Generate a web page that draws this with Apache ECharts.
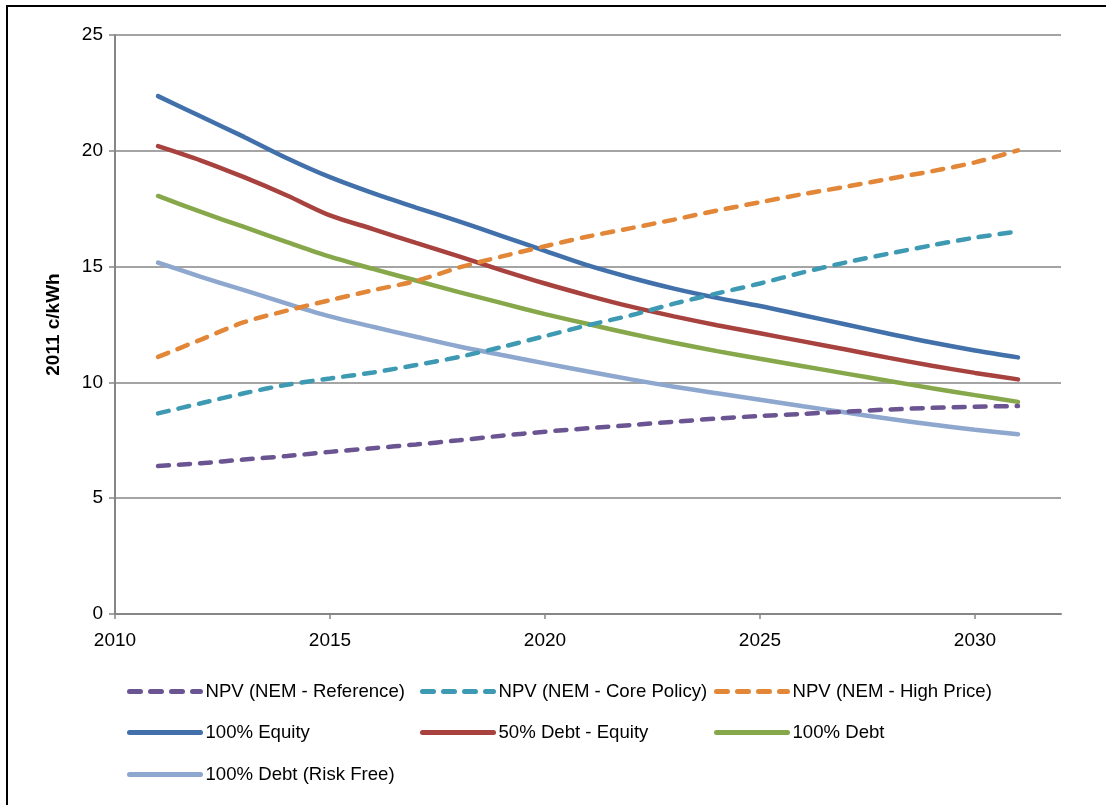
<!DOCTYPE html>
<html>
<head>
<meta charset="utf-8">
<script src="https://cdn.jsdelivr.net/npm/echarts@6/dist/echarts.min.js"></script>
<style>
  html, body { margin: 0; padding: 0; background: #fff; }
  #dom { width: 1106px; height: 805px; }
</style>
</head>
<body>
<div id="dom"></div>
<script>
// years 2011..2031
const years = [2011, 2012, 2013, 2014, 2015, 2016, 2017, 2018, 2019, 2020, 2021,
    2022, 2023, 2024, 2025, 2026, 2027, 2028, 2029, 2030, 2031]

// dashed NPV series (2011 c/kWh)
const npvReference = [6.39, 6.51, 6.67, 6.82, 7.0, 7.16, 7.32, 7.5, 7.7, 7.87, 8.02,
    8.16, 8.3, 8.44, 8.55, 8.64, 8.74, 8.83, 8.9, 8.95, 8.98]
const npvCorePolicy = [8.66, 9.1, 9.53, 9.9, 10.17, 10.43, 10.75, 11.1, 11.53, 12.0, 12.47,
    12.9, 13.4, 13.84, 14.27, 14.75, 15.18, 15.56, 15.92, 16.25, 16.52]
const npvHighPrice = [11.1, 11.85, 12.6, 13.1, 13.55, 13.98, 14.38, 14.96, 15.44, 15.88, 16.3,
    16.66, 17.03, 17.42, 17.78, 18.13, 18.45, 18.79, 19.12, 19.5, 20.02]

// solid cost series
const equity100 = [22.36, 21.48, 20.6, 19.68, 18.86, 18.17, 17.55, 16.95, 16.32, 15.68, 15.05,
    14.52, 14.05, 13.65, 13.3, 12.9, 12.5, 12.1, 11.72, 11.38, 11.08]
const debtEquity50 = [20.2, 19.58, 18.86, 18.07, 17.21, 16.62, 16.02, 15.44, 14.84, 14.27, 13.75,
    13.27, 12.85, 12.47, 12.12, 11.77, 11.42, 11.06, 10.72, 10.41, 10.13]
const debt100 = [18.05, 17.36, 16.71, 16.06, 15.43, 14.9, 14.4, 13.9, 13.42, 12.95, 12.52,
    12.1, 11.71, 11.35, 11.02, 10.7, 10.38, 10.06, 9.75, 9.45, 9.16]
const debtRiskFree = [15.17, 14.56, 13.98, 13.4, 12.85, 12.4, 11.97, 11.55, 11.18, 10.82, 10.47,
    10.13, 9.81, 9.53, 9.25, 8.97, 8.7, 8.43, 8.18, 7.96, 7.76]

const xTicks = [2010, 2015, 2020, 2025, 2030]

const pair = arr => arr.map((v, i) => [years[i], v])

const baseFont = 'Liberation Sans, Arial, sans-serif'

function lineSeries (name, data, color, dashed) {
    return {
        name: name,
        type: 'line',
        smooth: 0.3,
        symbol: 'none',
        showSymbol: false,
        data: pair(data),
        itemStyle: { color: color },
        lineStyle: {
            color: color,
            width: 4.5,
            type: dashed ? [11, 10] : 'solid',
            cap: 'round'
        },
        z: dashed ? 3 : 2
    }
}

// one legend block for every item, laid out like the original 3 columns
const legendSlots = [
    ['NPV (NEM - Reference)', 127, 692],
    ['NPV (NEM - Core Policy)', 420, 692],
    ['NPV (NEM - High Price)', 714, 692],
    ['100% Equity', 127, 733],
    ['50% Debt - Equity', 420, 733],
    ['100% Debt', 714, 733],
    ['100% Debt (Risk Free)', 127, 775]
]

const option = {
    animation: false,
    backgroundColor: '#fff',
    textStyle: { fontFamily: baseFont },
    graphic: [{
        type: 'rect',
        shape: { x: 7, y: 6, width: 1200, height: 1000 },
        style: { fill: 'none', stroke: '#000', lineWidth: 2 },
        silent: true
    }],
    legend: legendSlots.map(s => ({
        data: [s[0]],
        left: s[1],
        top: s[2] - 10,
        itemWidth: 71,
        itemHeight: 14,
        itemGap: 0,
        padding: 0,
        itemStyle: { opacity: 0 },
        lineStyle: { width: 5, cap: 'round' },
        textStyle: { fontSize: 18.6, color: '#000', fontFamily: baseFont }
    })),
    grid: {
        left: 115,
        right: 45,
        top: 35,
        bottom: 191
    },
    xAxis: {
        type: 'value',
        min: 2010,
        max: 2032,
        interval: 5,
        axisLine: { lineStyle: { color: '#868686', width: 2 } },
        axisTick: { show: true, length: 5, lineStyle: { color: '#868686', width: 1.5 } },
        axisLabel: {
            color: '#000',
            fontSize: 19,
            margin: 17,
            showMaxLabel: false,
            formatter: v => xTicks.indexOf(v) >= 0 ? String(v) : ''
        },
        splitLine: { show: false }
    },
    yAxis: {
        type: 'value',
        min: 0,
        max: 25,
        interval: 5,
        name: '2011 c/kWh',
        nameLocation: 'middle',
        nameGap: 52,
        nameTextStyle: { fontSize: 19, fontWeight: 'bold', color: '#000' },
        axisLine: { show: true, lineStyle: { color: '#868686', width: 2 } },
        axisTick: { show: true, length: 6, lineStyle: { color: '#868686', width: 1.5 } },
        axisLabel: { color: '#000', fontSize: 19, margin: 12 },
        splitLine: { lineStyle: { color: '#868686', width: 1.5 } }
    },
    series: [
        lineSeries('NPV (NEM - Reference)', npvReference, '#6a5592', true),
        lineSeries('NPV (NEM - Core Policy)', npvCorePolicy, '#3d9ab2', true),
        lineSeries('NPV (NEM - High Price)', npvHighPrice, '#e28638', true),
        lineSeries('100% Equity', equity100, '#4270aa', false),
        lineSeries('50% Debt - Equity', debtEquity50, '#a8423e', false),
        lineSeries('100% Debt', debt100, '#86a74a', false),
        lineSeries('100% Debt (Risk Free)', debtRiskFree, '#8da7cf', false)
    ]
}

let myChart = echarts.init(document.getElementById('dom'))
myChart.setOption(option, true)
</script>
</body>
</html>
